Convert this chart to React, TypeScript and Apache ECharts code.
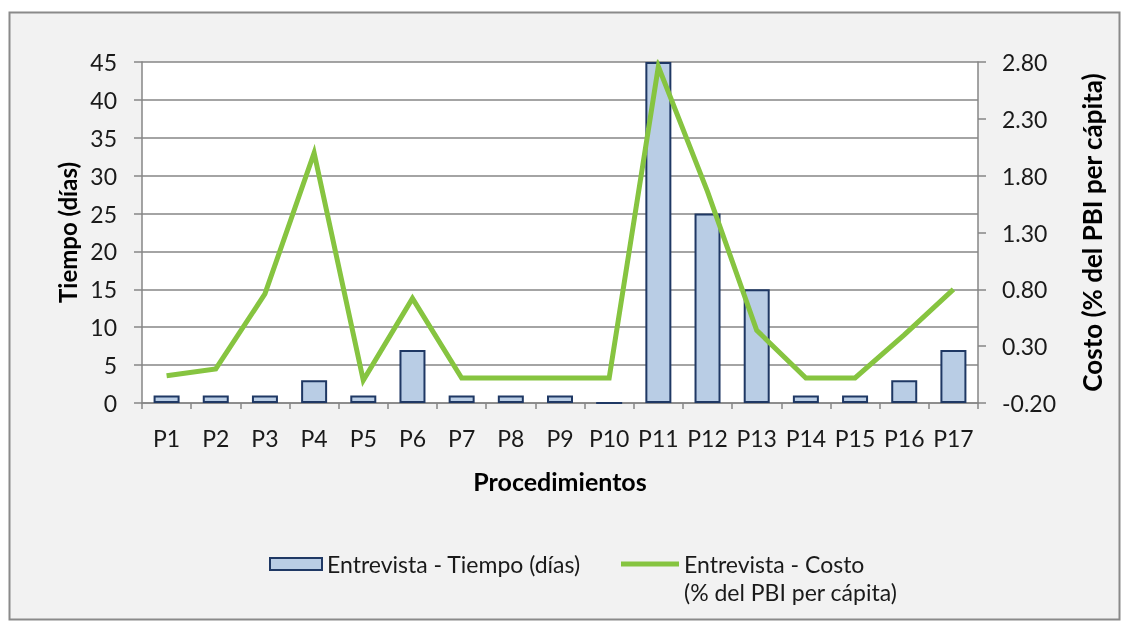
import React, { useEffect, useRef } from "react";
import * as echarts from "echarts";

const categories = ["P1", "P2", "P3", "P4", "P5", "P6", "P7", "P8", "P9", "P10", "P11", "P12", "P13", "P14", "P15", "P16", "P17"];
const tiempoDias = [1, 1, 1, 3, 1, 7, 1, 1, 1, 0, 45, 25, 15, 1, 1, 3, 7];
const costoPBI = [0.04, 0.1, 0.76, 2.0, 0.0, 0.72, 0.02, 0.02, 0.02, 0.02, 2.76, 1.66, 0.44, 0.02, 0.02, 0.4, 0.8];

const seriesBarName = "Entrevista - Tiempo (días)";
const seriesLineName = "Entrevista - Costo (% del PBI per cápita)";
const lineLegendLine1 = "Entrevista - Costo";
const lineLegendLine2 = "(% del PBI per cápita)";

const FONT = "Lato";
const GREEN = "#86c440";
const BAR_FILL = "#b9cde5";
const BAR_BORDER = "#1f3864";

export default function App() {
  const ref = useRef<HTMLDivElement>(null);
  useEffect(() => {
    if (!ref.current) return;
    const chart = echarts.init(ref.current, undefined, { renderer: "svg" });
    const legendText = { fontFamily: FONT, fontSize: 23, color: "#1a1a1a", lineHeight: 28 };
    chart.setOption({
      animation: false,
      backgroundColor: "transparent",
      textStyle: { fontFamily: FONT },
      graphic: [
        {
          type: "rect",
          z: -10,
          silent: true,
          shape: { x: 9.5, y: 12.5, width: 1110, height: 607 },
          style: { fill: "#f2f2f2", stroke: "#8a8a8a", lineWidth: 2 },
        },
        {
          type: "text",
          silent: true,
          left: 684,
          top: 580,
          style: { text: lineLegendLine2, font: `23px ${FONT}`, fill: "#1a1a1a" },
        },
      ],
      grid: {
        left: 142,
        right: 148,
        top: 62,
        bottom: 227,
        show: true,
        backgroundColor: "#ffffff",
        borderWidth: 0,
      },
      legend: [
        {
          left: 264,
          top: 545,
          itemWidth: 52,
          itemHeight: 12,
          selectedMode: false,
          textStyle: legendText,
          data: [
            {
              name: seriesBarName,
              icon: "rect",
              itemStyle: { color: BAR_FILL, borderColor: BAR_BORDER, borderWidth: 2 },
            },
          ],
        },
        {
          left: 616,
          top: 545,
          itemWidth: 58,
          itemHeight: 12,
          selectedMode: false,
          textStyle: legendText,
          formatter: () => lineLegendLine1,
          data: [
            {
              name: seriesLineName,
              icon: "path://M0,0 L58,0 L58,5 L0,5 Z",
              itemStyle: { color: GREEN, borderWidth: 0 },
            },
          ],
        },
      ],
      xAxis: {
        type: "category",
        data: categories,
        boundaryGap: true,
        name: "Procedimientos",
        nameLocation: "middle",
        nameGap: 65,
        nameTextStyle: { fontFamily: FONT, fontSize: 25, fontWeight: "bold", color: "#000" },
        axisLine: { lineStyle: { color: "#868686", width: 1.5 } },
        axisTick: { show: true, length: 6, alignWithLabel: false, lineStyle: { color: "#868686", width: 1.5 } },
        axisLabel: { fontFamily: FONT, fontSize: 23, color: "#1a1a1a", margin: 23, interval: 0 },
      },
      yAxis: [
        {
          type: "value",
          min: 0,
          max: 45,
          interval: 5,
          position: "left",
          name: "Tiempo (días)",
          nameLocation: "middle",
          nameRotate: 90,
          nameGap: 63,
          nameTextStyle: { fontFamily: FONT, fontSize: 24, fontWeight: "bold", color: "#000" },
          axisLine: { show: true, lineStyle: { color: "#868686", width: 1.5 } },
          axisTick: { show: true, length: 8, lineStyle: { color: "#868686", width: 1.5 } },
          axisLabel: { fontFamily: FONT, fontSize: 23, color: "#1a1a1a", margin: 25 },
          splitLine: { show: true, lineStyle: { color: "#868686", width: 1.5 } },
        },
        {
          type: "value",
          min: -0.2,
          max: 2.8,
          interval: 0.5,
          position: "right",
          name: "Costo (% del PBI per cápita)",
          nameLocation: "middle",
          nameRotate: 90,
          nameGap: 101,
          nameTextStyle: { fontFamily: FONT, fontSize: 26, fontWeight: "bold", color: "#000" },
          axisLine: { show: true, lineStyle: { color: "#868686", width: 1.5 } },
          axisTick: { show: true, length: 8, lineStyle: { color: "#868686", width: 1.5 } },
          axisLabel: {
            fontFamily: FONT,
            fontSize: 23,
            color: "#1a1a1a",
            margin: 24,
            formatter: (v: number) => v.toFixed(2),
          },
          splitLine: { show: false },
        },
      ],
      series: [
        {
          name: seriesBarName,
          type: "bar",
          yAxisIndex: 0,
          data: tiempoDias,
          barWidth: 26,
          itemStyle: { color: BAR_FILL, borderColor: BAR_BORDER, borderWidth: 2 },
          z: 2,
        },
        {
          name: seriesLineName,
          type: "line",
          yAxisIndex: 1,
          data: costoPBI,
          showSymbol: false,
          symbol: "none",
          lineStyle: { color: GREEN, width: 5, join: "miter" },
          itemStyle: { color: GREEN },
          z: 3,
        },
      ],
    });
    return () => chart.dispose();
  }, []);
  return (
    <div
      ref={ref}
      style={{ position: "fixed", left: 0, top: 0, width: 1126, height: 630 }}
    />
  );
}
